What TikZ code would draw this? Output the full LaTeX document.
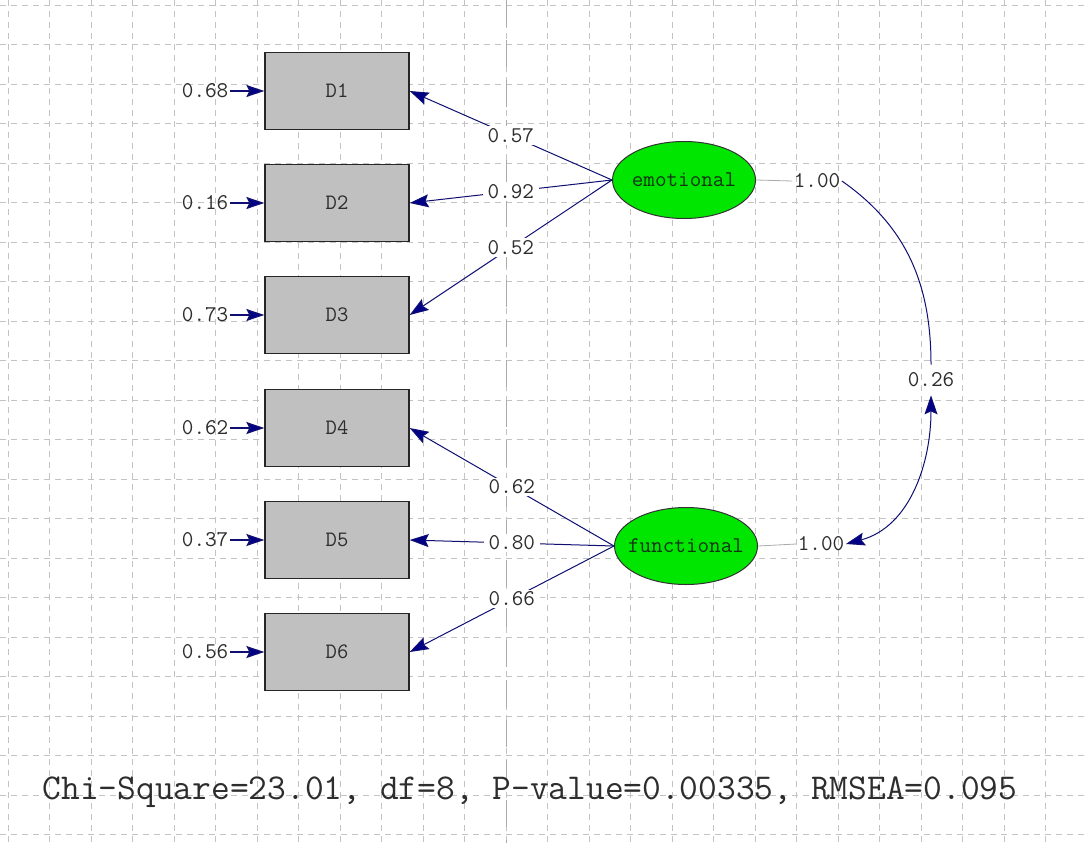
\documentclass[tikz,border=0pt]{standalone}
\usepackage{fontspec}
\usetikzlibrary{arrows.meta,shapes.geometric}
\definecolor{gridgray}{RGB}{195,195,195}
\definecolor{midgray}{RGB}{170,170,170}
\definecolor{pathblue}{RGB}{15,15,115}
\definecolor{headblue}{RGB}{0,0,135}
\definecolor{boxgray}{RGB}{192,192,192}
\definecolor{latgreen}{RGB}{0,230,0}
\definecolor{numgray}{RGB}{45,45,45}
\definecolor{latext}{RGB}{20,50,20}

\begin{document}
\begin{tikzpicture}[x=1pt, y=-1pt,
gridline/.style={draw=gridgray, line width=0.7pt, dash pattern=on 6pt off 5pt},
midline/.style={draw=midgray, line width=0.9pt, dash pattern=on 27pt off 13pt},
obsnode/.style={rectangle, draw=black!85, fill=boxgray, line width=1.3pt, minimum width=144pt, minimum height=77pt, font=\ttfamily\fontsize{22}{22}\selectfont, text=numgray},
latnode/.style={ellipse, draw=black!80, fill=latgreen, line width=1pt, minimum width=143pt, minimum height=77pt, inner sep=0pt, font=\ttfamily\fontsize{22.5}{22}\selectfont, text=latext},
numnode/.style={inner sep=1.5pt, font=\ttfamily\fontsize{22.5}{22}\selectfont, text=numgray},
lbl/.style={fill=white, inner xsep=5pt, inner ysep=2pt, font=\ttfamily\fontsize{22.5}{22}\selectfont, text=numgray},
errline/.style={draw=pathblue, line width=1.4pt, -{Stealth[length=18pt, width=12pt, inset=3pt, fill=headblue]}},
pathline/.style={draw=pathblue, line width=1pt, -{Stealth[length=19pt, width=13pt, inset=3pt, fill=headblue]}},
stubline/.style={draw=midgray, line width=0.8pt},
covline/.style={draw=pathblue, line width=1pt, {Stealth[length=19pt, width=13pt, inset=3pt, fill=headblue]}-{Stealth[length=19pt, width=13pt, inset=3pt, fill=headblue]}},
]
\useasboundingbox (0,0) rectangle (1086,843);
\fill[white] (0,0) rectangle (1086,843);
%Grid
\foreach \gx in {0,...,25} \draw[gridline] ({8+41.5*\gx},0) -- ({8+41.5*\gx},843);
\foreach \gy in {0,...,21} \draw[gridline] (0,{5+39.5*\gy}) -- (1086,{5+39.5*\gy});
\draw[midline] (506,0) -- (506,843);
%Nodes
\node[obsnode](D1) at (337,91)  {D1};
\node[obsnode](D2) at (337,203) {D2};
\node[obsnode](D3) at (337,315) {D3};
\node[obsnode](D4) at (337,428) {D4};
\node[obsnode](D5) at (337,540) {D5};
\node[obsnode](D6) at (337,652) {D6};
\node[numnode, anchor=east](e1) at (230,91)  {0.68};
\node[numnode, anchor=east](e2) at (230,203) {0.16};
\node[numnode, anchor=east](e3) at (230,315) {0.73};
\node[numnode, anchor=east](e4) at (230,428) {0.62};
\node[numnode, anchor=east](e5) at (230,540) {0.37};
\node[numnode, anchor=east](e6) at (230,652) {0.56};
\node[latnode](emotional) at (684,180)  {\makebox[0pt]{emotional}};
\node[latnode](functional) at (686,546) {\makebox[0pt]{functional}};
\node[numnode](v1) at (817,181) {1.00};
\node[numnode](v2) at (821,544) {1.00};
\node[numnode, inner ysep=8pt](r12) at (931,380) {0.26};
\node[font=\ttfamily\fontsize{36.4}{36}\selectfont, text=numgray, anchor=base](fit) at (530,799) {Chi-Square=23.01, df=8, P-value=0.00335, RMSEA=0.095};
%Lines
\draw[errline] (e1) -- (D1);
\draw[errline] (e2) -- (D2);
\draw[errline] (e3) -- (D3);
\draw[errline] (e4) -- (D4);
\draw[errline] (e5) -- (D5);
\draw[errline] (e6) -- (D6);
\draw[pathline] (emotional.west) -- node[lbl](l1) {0.57} (D1.east);
\draw[pathline] (emotional.west) -- node[lbl](l2) {0.92} (D2.east);
\draw[pathline] (emotional.west) -- node[lbl](l3) {0.52} (D3.east);
\draw[pathline] (functional.west) -- node[lbl](l4) {0.62} (D4.east);
\draw[pathline] (functional.west) -- node[lbl](l5) {0.80} (D5.east);
\draw[pathline] (functional.west) -- node[lbl](l6) {0.66} (D6.east);
\draw[stubline] (emotional.east) -- (v1.west);
\draw[stubline] (functional.east) -- (v2.west);
\draw[covline] (v1.east) to[out=-35, in=90] (r12) to[out=-90, in=15] (v2.east);
\end{tikzpicture}
\end{document}
